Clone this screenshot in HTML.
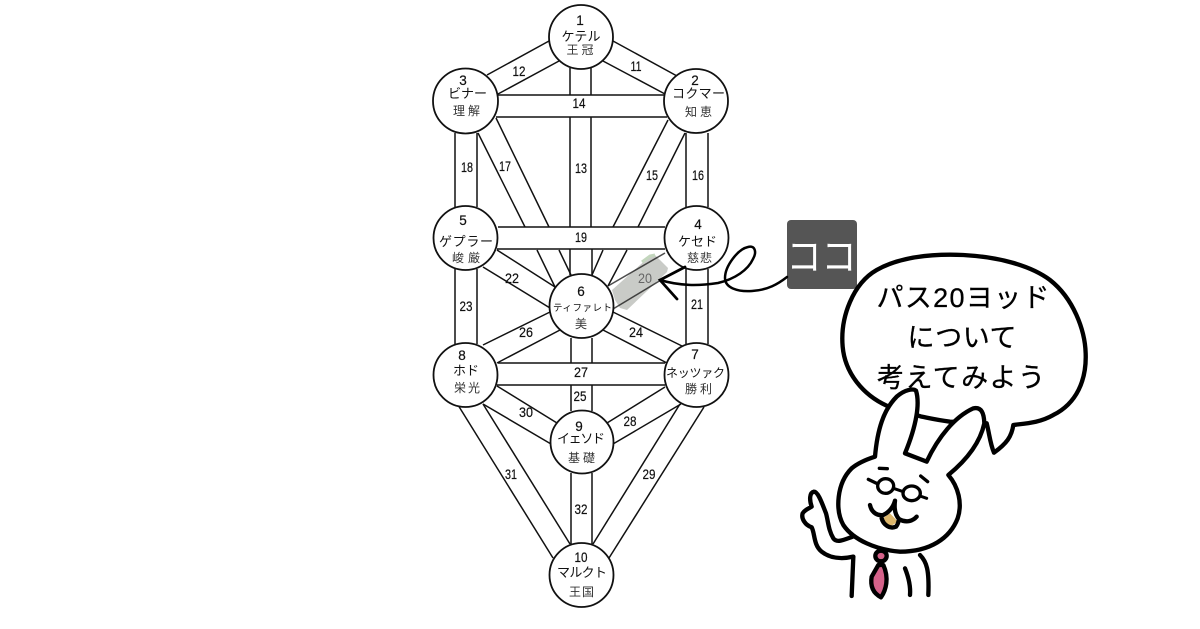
<!DOCTYPE html>
<html lang="ja"><head><meta charset="utf-8"><style>
html,body{margin:0;padding:0;background:#fff;width:1200px;height:629px;overflow:hidden}
svg{display:block}
.l line{stroke:#111;stroke-width:1.5}
.n circle{fill:#fff;stroke:#111;stroke-width:1.8}
text{font-family:"Liberation Sans","Noto Sans CJK JP",sans-serif;fill:#111;text-anchor:middle}
.p text{font-size:13.5px;font-family:"Liberation Sans",sans-serif;stroke:#111;stroke-width:.2}
.k{font-size:13px}.s{font-size:12px;fill:#333}
.b text{font-size:27px;fill:#000;stroke:#000;stroke-width:.3;font-family:"Liberation Sans","Noto Sans CJK JP",sans-serif}
.r path,.r circle,.r ellipse{stroke:#000;stroke-width:13;stroke-linecap:round;stroke-linejoin:round}
</style></head><body>
<svg width="1200" height="629" viewBox="0 0 1200 629" xmlns="http://www.w3.org/2000/svg">
<polygon points="612,290 630,274 650,256 655,255 668,268 667,272 627,310 620,308 615,300" fill="#c9cbc7"/>
<path d="M642,262 L650,256 L655,255" stroke="#c3d6bd" stroke-width="3" fill="none"/>
<g class="l">
<line x1="549" y1="41" x2="487" y2="75"/><line x1="559" y1="61" x2="498" y2="94"/>
<line x1="613" y1="41" x2="677" y2="76"/><line x1="603" y1="61" x2="665" y2="94"/>
<line x1="570" y1="68" x2="570" y2="95"/><line x1="591" y1="68" x2="591" y2="95"/>
<line x1="570" y1="117" x2="570" y2="227"/><line x1="591" y1="117" x2="591" y2="227"/>
<line x1="570" y1="249" x2="570" y2="275"/><line x1="592" y1="249" x2="592" y2="275"/>
<line x1="571" y1="338" x2="571" y2="363"/><line x1="592" y1="338" x2="592" y2="363"/>
<line x1="571" y1="385" x2="571" y2="411"/><line x1="592" y1="385" x2="592" y2="411"/>
<line x1="571" y1="473" x2="571" y2="544"/><line x1="592" y1="473" x2="592" y2="544"/>
<line x1="498" y1="95" x2="665" y2="95"/><line x1="496" y1="117" x2="667" y2="117"/>
<line x1="498" y1="227" x2="665" y2="227"/><line x1="497" y1="249" x2="665" y2="249"/>
<line x1="498" y1="363" x2="665" y2="363"/><line x1="497" y1="385" x2="665" y2="385"/>
<line x1="455" y1="133" x2="455" y2="207"/><line x1="477" y1="133" x2="477" y2="207"/>
<line x1="686" y1="133" x2="686" y2="207"/><line x1="708" y1="133" x2="708" y2="207"/>
<line x1="455" y1="269" x2="455" y2="344"/><line x1="477" y1="269" x2="477" y2="344"/>
<line x1="686" y1="269" x2="686" y2="344"/><line x1="708" y1="269" x2="708" y2="344"/>
<line x1="478" y1="133" x2="525" y2="227"/><line x1="496" y1="118" x2="549" y2="227"/>
<line x1="537" y1="250" x2="555" y2="287"/><line x1="559" y1="250" x2="571" y2="275"/>
<line x1="668" y1="120" x2="613" y2="227"/><line x1="685" y1="133" x2="638" y2="227"/>
<line x1="603" y1="250" x2="592" y2="275"/><line x1="627" y1="250" x2="608" y2="286"/>
<line x1="483" y1="267" x2="550" y2="308"/><line x1="497" y1="250" x2="555" y2="287"/>
<line x1="608" y1="286" x2="665" y2="253" stroke-opacity=".75"/><line x1="613" y1="309" x2="661" y2="280" stroke-opacity=".75"/>
<line x1="550" y1="312" x2="483" y2="345"/><line x1="560" y1="330" x2="497" y2="363"/>
<line x1="613" y1="312" x2="682" y2="346"/><line x1="603" y1="330" x2="667" y2="363"/>
<line x1="497" y1="386" x2="557" y2="423"/><line x1="483" y1="404" x2="551" y2="444"/>
<line x1="607" y1="423" x2="665" y2="387"/><line x1="613" y1="444" x2="681" y2="404"/>
<line x1="458" y1="405" x2="553" y2="558"/><line x1="483" y1="404" x2="570" y2="544"/>
<line x1="704" y1="407" x2="609" y2="558"/><line x1="680" y1="404" x2="593" y2="544"/>
</g>
<g class="n">
<circle cx="581" cy="37" r="32"/><circle cx="465.5" cy="101" r="32.5"/><circle cx="696" cy="101" r="32"/>
<circle cx="465.5" cy="238" r="32"/><circle cx="696.5" cy="238" r="32"/><circle cx="581.5" cy="306" r="32"/>
<circle cx="465.5" cy="375" r="32"/><circle cx="696.5" cy="375" r="32"/><circle cx="582" cy="442" r="31.5"/>
<circle cx="581.5" cy="575" r="32"/>
</g>
<g class="p">
<text x="519" y="76" textLength="13" lengthAdjust="spacingAndGlyphs">12</text>
<text x="636" y="71" textLength="11" lengthAdjust="spacingAndGlyphs">11</text>
<text x="579" y="108" textLength="13" lengthAdjust="spacingAndGlyphs">14</text>
<text x="467" y="172" textLength="12" lengthAdjust="spacingAndGlyphs">18</text>
<text x="505" y="171" textLength="12" lengthAdjust="spacingAndGlyphs">17</text>
<text x="581" y="173" textLength="12" lengthAdjust="spacingAndGlyphs">13</text>
<text x="652" y="180" textLength="12" lengthAdjust="spacingAndGlyphs">15</text>
<text x="698" y="180" textLength="12" lengthAdjust="spacingAndGlyphs">16</text>
<text x="581" y="242" textLength="12" lengthAdjust="spacingAndGlyphs">19</text>
<text x="512" y="283" textLength="14" lengthAdjust="spacingAndGlyphs">22</text>
<text x="466" y="311" textLength="13" lengthAdjust="spacingAndGlyphs">23</text>
<text x="645" y="283" textLength="14" lengthAdjust="spacingAndGlyphs" style="fill:#666;stroke:none">20</text>
<text x="697" y="309" textLength="12" lengthAdjust="spacingAndGlyphs">21</text>
<text x="526" y="337" textLength="14" lengthAdjust="spacingAndGlyphs">26</text>
<text x="636" y="337" textLength="14" lengthAdjust="spacingAndGlyphs">24</text>
<text x="581" y="377" textLength="14" lengthAdjust="spacingAndGlyphs">27</text>
<text x="580" y="401" textLength="13" lengthAdjust="spacingAndGlyphs">25</text>
<text x="526" y="417" textLength="14" lengthAdjust="spacingAndGlyphs">30</text>
<text x="630" y="426" textLength="13" lengthAdjust="spacingAndGlyphs">28</text>
<text x="511" y="479" textLength="12" lengthAdjust="spacingAndGlyphs">31</text>
<text x="649" y="479" textLength="13" lengthAdjust="spacingAndGlyphs">29</text>
<text x="581" y="514" textLength="13" lengthAdjust="spacingAndGlyphs">32</text>
</g>
<g class="p">
<text x="580" y="25">1</text><text x="463" y="85">3</text><text x="695" y="85">2</text>
<text x="463" y="225">5</text><text x="698" y="229">4</text><text x="581" y="296">6</text>
<text x="462" y="360">8</text><text x="695" y="359">7</text><text x="579" y="431">9</text><text x="581" y="562" textLength="13" lengthAdjust="spacingAndGlyphs">10</text>
</g>
<text class="k" x="581" y="41" textLength="39">ケテル</text>
<text class="s" x="580" y="54" textLength="27">王冠</text>
<text class="k" x="467.5" y="98" textLength="39">ビナー</text>
<text class="s" x="466.5" y="115" textLength="27">理解</text>
<text class="k" x="698.5" y="98" textLength="53">コクマー</text>
<text class="s" x="698.5" y="116" textLength="27">知恵</text>
<text class="k" x="466" y="246" textLength="54">ゲプラー</text>
<text class="s" x="466" y="262" textLength="28">峻厳</text>
<text class="k" x="697.5" y="246" textLength="39">ケセド</text>
<text class="s" x="699.5" y="262" textLength="25">慈悲</text>
<text x="582.5" y="311" textLength="59" style="font-size:9.5px">ティファレト</text>
<text class="s" x="581" y="328">美</text>
<text class="k" x="466" y="375" textLength="26">ホド</text>
<text class="s" x="467" y="392" textLength="26">栄光</text>
<text x="695.5" y="377" textLength="59" style="font-size:12px">ネッツァク</text>
<text class="s" x="698.5" y="393" textLength="27">勝利</text>
<text class="k" x="581" y="443" textLength="48">イェソド</text>
<text class="s" x="581.5" y="462" textLength="27">基礎</text>
<text class="k" x="582" y="577" textLength="50">マルクト</text>
<text class="s" x="581.5" y="596" textLength="25">王国</text>

<rect x="787" y="220" width="70" height="69" rx="4" fill="#555"/>
<text x="821.5" y="270" textLength="70" lengthAdjust="spacingAndGlyphs" style="font-size:38px;fill:#fff;font-weight:400">ココ</text>
<path d="M787,277 C778,284 768,290 752,291 C738,292 725,288 725,278 C725,266 738,249 748,247 C755,245 757,252 753,259 C748,270 735,279 718,283 C698,286 680,286 660,280" fill="none" stroke="#000" stroke-width="2.5" stroke-linecap="round"/>
<path d="M685,267 L660,280 L677,299" fill="none" stroke="#000" stroke-width="2.8" stroke-linecap="round" stroke-linejoin="miter"/>

<g class="r" transform="translate(790,240) scale(.33333)">
<path d="M290,497 C220,465 165,400 158,320 C150,230 190,130 260,90 C340,45 450,42 520,45 C620,50 720,75 780,120 C850,175 885,270 887,340 C890,420 860,490 790,525 C750,548 710,550 670,555 C665,590 650,610 612,638 C600,610 598,580 590,550 L480,545 C440,540 420,535 395,530 Z" fill="#fff"/>
</g>
<g class="b">
<text x="963" y="307" textLength="173">パス20ヨッド</text>
<text x="962" y="347" textLength="109">について</text>
<text x="961" y="387" textLength="168">考えてみよう</text>
</g>
<g class="r" transform="translate(790,240) scale(.33333)">
<path d="M255,650 C262,570 280,510 320,470 C345,448 370,445 378,452 C390,490 380,555 345,640 L410,665 C445,590 495,530 550,505 C575,500 582,520 583,550 C570,610 530,660 475,705 C505,740 518,790 503,835 C480,895 420,935 330,935 C260,930 190,900 160,855 C135,810 140,730 185,685 C205,668 230,658 255,650 Z" fill="#fff"/>
</g>
<g class="r" transform="translate(800,450) scale(.33333)">
<path d="M160,320 C125,328 90,325 65,305 C40,285 45,250 35,232 C15,225 3,205 8,190 C15,178 28,175 35,170 C28,150 28,128 42,125 C55,125 68,165 78,190 C85,215 85,240 100,265 C110,280 130,270 158,260" fill="#fff"/>
<path d="M160,320 L155,438" fill="none"/>
<path d="M360,315 C380,335 388,360 385,435" fill="none"/>
<path d="M315,355 C325,380 332,410 330,435" fill="none"/>
<path d="M235,345 L215,380 C210,410 220,430 243,442 C258,420 268,385 250,345 Z" fill="#d5628a"/>
<ellipse cx="243" cy="318" rx="17" ry="16" fill="#d5628a"/>
<path d="M238,55 L262,56 M205,88 L230,100 M362,78 L383,95" fill="none" style="stroke-width:10"/>
<ellipse cx="257" cy="108" rx="24" ry="22" fill="#fff" style="stroke-width:10"/>
<ellipse cx="335" cy="130" rx="26" ry="22" fill="#fff" style="stroke-width:10"/>
<path d="M280,115 L310,125 M360,138 L380,145" fill="none" style="stroke-width:9"/>
<path d="M245,207 L270,190 L292,213 C285,225 265,232 255,226 Z" fill="#dcb66b" style="stroke-width:0"/>
<path d="M210,165 C215,190 235,198 250,195 C270,185 280,170 285,152 C282,175 285,195 298,208 C320,220 340,212 350,200 M245,205 C250,225 270,238 288,230 C295,222 295,215 297,208" fill="none"/>
</g>
</svg>
</body></html>
